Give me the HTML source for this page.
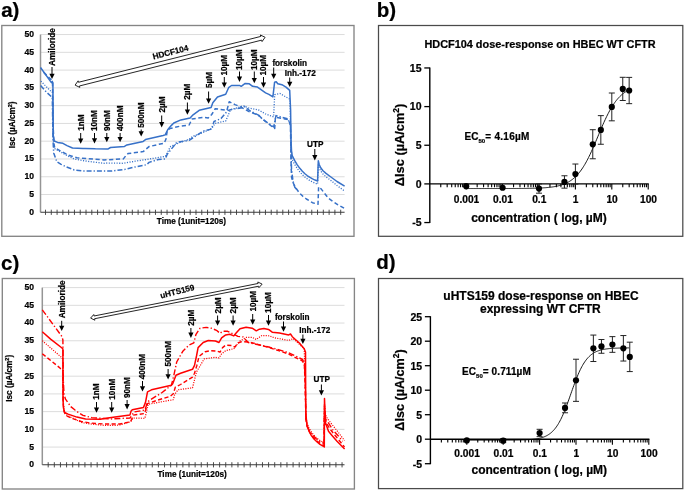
<!DOCTYPE html>
<html><head><meta charset="utf-8"><style>
html,body{margin:0;padding:0;background:#fff;}
svg{display:block;font-family:"Liberation Sans", sans-serif;will-change:transform;}
text{stroke:#000;stroke-width:0.22px;}
</style></head><body>
<svg width="685" height="491" viewBox="0 0 685 491">
<rect width="685" height="491" fill="#fff"/>
<text x="1.20" y="16.80" font-size="20.5" text-anchor="start" font-weight="bold" >a)</text>
<text x="376.80" y="16.80" font-size="20.5" text-anchor="start" font-weight="bold" >b)</text>
<text x="1.00" y="269.50" font-size="20.5" text-anchor="start" font-weight="bold" >c)</text>
<text x="376.30" y="268.70" font-size="20.5" text-anchor="start" font-weight="bold" >d)</text>
<rect x="1.8" y="25.5" width="352.2" height="210.8" fill="none" stroke="#858585" stroke-width="1.35"/>
<line x1="40.5" y1="194.53" x2="344.6" y2="194.53" stroke="#dcdcdc" stroke-width="1"/>
<line x1="40.5" y1="176.75" x2="344.6" y2="176.75" stroke="#dcdcdc" stroke-width="1"/>
<line x1="40.5" y1="158.98" x2="344.6" y2="158.98" stroke="#dcdcdc" stroke-width="1"/>
<line x1="40.5" y1="141.20" x2="344.6" y2="141.20" stroke="#dcdcdc" stroke-width="1"/>
<line x1="40.5" y1="123.43" x2="344.6" y2="123.43" stroke="#dcdcdc" stroke-width="1"/>
<line x1="40.5" y1="105.65" x2="344.6" y2="105.65" stroke="#dcdcdc" stroke-width="1"/>
<line x1="40.5" y1="87.88" x2="344.6" y2="87.88" stroke="#dcdcdc" stroke-width="1"/>
<line x1="40.5" y1="70.10" x2="344.6" y2="70.10" stroke="#dcdcdc" stroke-width="1"/>
<line x1="40.5" y1="52.33" x2="344.6" y2="52.33" stroke="#dcdcdc" stroke-width="1"/>
<line x1="40.5" y1="34.55" x2="344.6" y2="34.55" stroke="#dcdcdc" stroke-width="1"/>
<line x1="40.5" y1="34.55" x2="40.5" y2="212.30" stroke="#959595" stroke-width="1.5"/>
<line x1="40.5" y1="212.30" x2="344.6" y2="212.30" stroke="#3a3a3a" stroke-width="1.1"/>
<path d="M45.50,209.70 V214.90 M51.29,209.70 V214.90 M57.08,209.70 V214.90 M62.86,209.70 V214.90 M68.65,209.70 V214.90 M74.44,209.70 V214.90 M80.23,209.70 V214.90 M86.02,209.70 V214.90 M91.80,209.70 V214.90 M97.59,209.70 V214.90 M103.38,209.70 V214.90 M109.17,209.70 V214.90 M114.96,209.70 V214.90 M120.74,209.70 V214.90 M126.53,209.70 V214.90 M132.32,209.70 V214.90 M138.11,209.70 V214.90 M143.90,209.70 V214.90 M149.68,209.70 V214.90 M155.47,209.70 V214.90 M161.26,209.70 V214.90 M167.05,209.70 V214.90 M172.84,209.70 V214.90 M178.62,209.70 V214.90 M184.41,209.70 V214.90 M190.20,209.70 V214.90 M195.99,209.70 V214.90 M201.78,209.70 V214.90 M207.56,209.70 V214.90 M213.35,209.70 V214.90 M219.14,209.70 V214.90 M224.93,209.70 V214.90 M230.72,209.70 V214.90 M236.50,209.70 V214.90 M242.29,209.70 V214.90 M248.08,209.70 V214.90 M253.87,209.70 V214.90 M259.66,209.70 V214.90 M265.44,209.70 V214.90 M271.23,209.70 V214.90 M277.02,209.70 V214.90 M282.81,209.70 V214.90 M288.60,209.70 V214.90 M294.38,209.70 V214.90 M300.17,209.70 V214.90 M305.96,209.70 V214.90 M311.75,209.70 V214.90 M317.54,209.70 V214.90 M323.32,209.70 V214.90 M329.11,209.70 V214.90 M334.90,209.70 V214.90 M340.69,209.70 V214.90" stroke="#3a3a3a" stroke-width="0.9"/>
<text x="34.00" y="214.75" font-size="8.6" text-anchor="end" font-weight="bold" >0</text>
<text x="34.00" y="196.97" font-size="8.6" text-anchor="end" font-weight="bold" >5</text>
<text x="34.00" y="179.20" font-size="8.6" text-anchor="end" font-weight="bold" >10</text>
<text x="34.00" y="161.43" font-size="8.6" text-anchor="end" font-weight="bold" >15</text>
<text x="34.00" y="143.65" font-size="8.6" text-anchor="end" font-weight="bold" >20</text>
<text x="34.00" y="125.88" font-size="8.6" text-anchor="end" font-weight="bold" >25</text>
<text x="34.00" y="108.10" font-size="8.6" text-anchor="end" font-weight="bold" >30</text>
<text x="34.00" y="90.33" font-size="8.6" text-anchor="end" font-weight="bold" >35</text>
<text x="34.00" y="72.55" font-size="8.6" text-anchor="end" font-weight="bold" >40</text>
<text x="34.00" y="54.78" font-size="8.6" text-anchor="end" font-weight="bold" >45</text>
<text x="34.00" y="37.00" font-size="8.6" text-anchor="end" font-weight="bold" >50</text>
<text transform="translate(15.05,124.90) rotate(-90)" font-size="8.2" font-weight="bold" text-anchor="middle">Isc (µA/cm<tspan font-size="5.5" dy="-3">2</tspan><tspan dy="3">)</tspan></text>
<text x="156.80" y="224.00" font-size="8.2" text-anchor="start" font-weight="bold" >Time (1unit=120s)</text>
<text transform="translate(54.95,65.90) rotate(-90)" font-size="8.2" font-weight="bold">Amiloride</text>
<line x1="52.00" y1="67.00" x2="52.00" y2="74.20" stroke="#000" stroke-width="1.0"/>
<path d="M49.40,73.70 L54.60,73.70 L52.00,79.00 Z" fill="#000"/>
<text transform="translate(83.65,130.80) rotate(-90)" font-size="8.2" font-weight="bold">1nM</text>
<line x1="80.70" y1="133.00" x2="80.70" y2="139.00" stroke="#000" stroke-width="1.0"/>
<path d="M78.10,138.50 L83.30,138.50 L80.70,143.80 Z" fill="#000"/>
<text transform="translate(97.45,131.00) rotate(-90)" font-size="8.2" font-weight="bold">10nM</text>
<line x1="94.50" y1="133.00" x2="94.50" y2="138.80" stroke="#000" stroke-width="1.0"/>
<path d="M91.90,138.30 L97.10,138.30 L94.50,143.60 Z" fill="#000"/>
<text transform="translate(109.75,131.00) rotate(-90)" font-size="8.2" font-weight="bold">90nM</text>
<line x1="106.80" y1="133.00" x2="106.80" y2="137.40" stroke="#000" stroke-width="1.0"/>
<path d="M104.20,136.90 L109.40,136.90 L106.80,142.20 Z" fill="#000"/>
<text transform="translate(123.05,131.00) rotate(-90)" font-size="8.2" font-weight="bold">400nM</text>
<line x1="120.10" y1="133.00" x2="120.10" y2="137.40" stroke="#000" stroke-width="1.0"/>
<path d="M117.50,136.90 L122.70,136.90 L120.10,142.20 Z" fill="#000"/>
<text transform="translate(144.15,127.80) rotate(-90)" font-size="8.2" font-weight="bold">500nM</text>
<line x1="141.20" y1="129.50" x2="141.20" y2="131.80" stroke="#000" stroke-width="1.0"/>
<path d="M138.60,131.30 L143.80,131.30 L141.20,136.60 Z" fill="#000"/>
<text transform="translate(164.65,112.50) rotate(-90)" font-size="8.2" font-weight="bold">2µM</text>
<line x1="161.70" y1="115.50" x2="161.70" y2="122.60" stroke="#000" stroke-width="1.0"/>
<path d="M159.10,122.10 L164.30,122.10 L161.70,127.40 Z" fill="#000"/>
<text transform="translate(190.35,99.70) rotate(-90)" font-size="8.2" font-weight="bold">2µM</text>
<line x1="187.40" y1="102.50" x2="187.40" y2="109.90" stroke="#000" stroke-width="1.0"/>
<path d="M184.80,109.40 L190.00,109.40 L187.40,114.70 Z" fill="#000"/>
<text transform="translate(211.55,88.00) rotate(-90)" font-size="8.2" font-weight="bold">5µM</text>
<line x1="208.60" y1="91.50" x2="208.60" y2="99.00" stroke="#000" stroke-width="1.0"/>
<path d="M206.00,98.50 L211.20,98.50 L208.60,103.80 Z" fill="#000"/>
<text transform="translate(227.25,75.60) rotate(-90)" font-size="8.2" font-weight="bold">10µM</text>
<line x1="224.30" y1="77.00" x2="224.30" y2="83.00" stroke="#000" stroke-width="1.0"/>
<path d="M221.70,82.50 L226.90,82.50 L224.30,87.80 Z" fill="#000"/>
<text transform="translate(242.45,70.00) rotate(-90)" font-size="8.2" font-weight="bold">10µM</text>
<line x1="239.50" y1="71.50" x2="239.50" y2="77.10" stroke="#000" stroke-width="1.0"/>
<path d="M236.90,76.60 L242.10,76.60 L239.50,81.90 Z" fill="#000"/>
<text transform="translate(257.25,70.00) rotate(-90)" font-size="8.2" font-weight="bold">10µM</text>
<line x1="254.30" y1="71.50" x2="254.30" y2="78.40" stroke="#000" stroke-width="1.0"/>
<path d="M251.70,77.90 L256.90,77.90 L254.30,83.20 Z" fill="#000"/>
<text transform="translate(266.45,75.60) rotate(-90)" font-size="8.2" font-weight="bold">10µM</text>
<line x1="263.50" y1="77.00" x2="263.50" y2="83.00" stroke="#000" stroke-width="1.0"/>
<path d="M260.90,82.50 L266.10,82.50 L263.50,87.80 Z" fill="#000"/>
<text x="272.40" y="65.50" font-size="8.2" text-anchor="start" font-weight="bold" >forskolin</text>
<line x1="273.70" y1="67.50" x2="273.70" y2="74.20" stroke="#000" stroke-width="1.0"/>
<path d="M271.10,73.70 L276.30,73.70 L273.70,79.00 Z" fill="#000"/>
<text x="284.80" y="75.90" font-size="8.2" text-anchor="start" font-weight="bold" >Inh.-172</text>
<line x1="289.70" y1="77.50" x2="289.70" y2="82.30" stroke="#000" stroke-width="1.0"/>
<path d="M287.10,81.80 L292.30,81.80 L289.70,87.10 Z" fill="#000"/>
<text x="307.00" y="146.80" font-size="8.2" text-anchor="start" font-weight="bold" >UTP</text>
<line x1="314.80" y1="149.00" x2="314.80" y2="155.60" stroke="#000" stroke-width="1.0"/>
<path d="M312.20,155.10 L317.40,155.10 L314.80,160.40 Z" fill="#000"/>
<path d="M75.10,85.10 L79.81,87.42 L79.44,85.97 L261.68,40.12 L262.05,41.57 L265.10,37.30 L260.39,34.98 L260.76,36.43 L78.52,82.28 L78.15,80.83 Z" fill="#fff" stroke="#1a1a1a" stroke-width="0.95" stroke-linejoin="miter"/>
<text transform="translate(153.6,59.6) rotate(-14.6)" font-size="8.2" font-weight="bold">HDCF104</text>
<path d="M40.50,67.50 L51.40,82.60 L52.30,81.40 L52.90,83.00 L53.10,110.00 L53.30,136.00 L54.20,141.00 L57.60,142.40 L62.90,143.30 L67.00,145.60 L72.50,148.00 L83.00,148.60 L85.00,148.40 L95.40,148.80 L108.20,148.90 L110.50,147.50 L124.50,146.40 L126.90,144.90 L143.20,141.40 L145.50,139.60 L163.10,135.50 L165.20,134.90 L167.70,129.70 L171.20,125.60 L173.80,123.00 L180.90,119.90 L190.10,117.90 L193.10,114.80 L199.20,110.30 L211.10,107.50 L212.80,102.80 L217.50,97.00 L225.70,94.30 L228.60,87.70 L231.50,85.50 L239.50,85.40 L241.20,86.30 L245.20,83.40 L249.30,83.80 L252.60,86.30 L257.50,87.10 L265.60,92.80 L268.90,94.40 L272.90,96.90 L274.60,82.20 L276.20,81.70 L277.80,83.80 L281.90,84.70 L286.00,87.10 L289.70,90.40 L290.60,110.00 L291.00,140.00 L291.50,150.50 L292.20,155.60 L294.74,160.64 L297.28,164.85 L299.82,168.36 L302.36,171.29 L304.90,173.73 L307.44,175.76 L309.98,177.46 L312.52,178.88 L315.06,180.06 L317.60,181.05 L318.30,160.70 L319.20,164.50 L320.70,167.80 L323.00,170.80 L326.00,173.40 L330.90,177.00 L337.00,181.50 L344.60,186.10" fill="none" stroke="#3771c8" stroke-width="1.5" stroke-linejoin="round" stroke-linecap="butt" />
<path d="M43.60,72.20 L46.00,74.60 L50.50,79.00 L52.50,81.50 L53.00,120.00 L53.80,143.00 L54.70,147.70 L59.40,150.30 L68.10,155.10 L76.90,157.80 L87.40,158.60 L104.00,159.90 L107.00,159.80 L123.40,158.90 L125.70,155.90 L128.00,153.60 L143.20,151.60 L145.00,150.10 L149.00,146.60 L164.20,143.10 L166.00,139.00 L167.20,130.80 L170.00,128.50 L180.00,126.20 L189.10,125.00 L192.10,118.90 L203.50,117.40 L208.20,118.00 L211.70,114.50 L215.20,108.70 L226.90,110.40 L229.20,101.70 L235.00,104.60 L239.70,106.40 L249.00,111.60 L258.40,115.10 L265.40,121.50 L274.70,128.50 L275.40,117.20 L288.40,119.70 L290.50,125.00 L291.00,160.00 L291.50,177.00 L293.00,182.50 L295.30,187.20 L299.10,192.50 L303.10,196.60 L306.40,199.00 L312.50,202.70 L318.00,204.30 L318.60,186.80 L321.10,188.90 L328.40,198.20 L332.50,201.10 L338.00,204.80 L344.60,208.40" fill="none" stroke="#3771c8" stroke-width="1.5" stroke-linejoin="round" stroke-linecap="butt" stroke-dasharray="4.2 2.6" />
<path d="M40.90,81.10 L49.80,90.30 L52.50,92.50 L53.00,130.00 L53.80,148.10 L58.00,150.50 L65.50,154.70 L74.30,159.10 L87.40,161.30 L104.00,163.30 L105.10,163.00 L123.40,163.30 L135.00,161.20 L146.70,159.50 L165.40,156.30 L167.20,153.00 L168.90,149.50 L170.70,146.40 L180.00,142.50 L189.10,139.20 L193.10,136.20 L200.00,133.80 L211.70,128.50 L215.20,123.30 L225.70,121.00 L228.00,115.70 L230.40,109.90 L235.00,108.50 L243.20,105.80 L249.00,108.10 L258.40,109.90 L265.60,114.00 L273.60,116.90 L274.70,94.70 L280.00,93.50 L290.00,99.30 L290.60,130.00 L291.20,150.00 L292.20,159.70 L294.74,164.50 L297.28,168.51 L299.82,171.87 L302.36,174.67 L304.90,177.02 L307.44,178.98 L309.98,180.62 L312.52,182.00 L315.06,183.14 L317.60,184.10 L318.30,164.80 L319.20,168.00 L320.70,171.00 L323.00,174.00 L326.00,176.80 L330.90,180.50 L337.00,185.50 L344.60,191.00" fill="none" stroke="#3771c8" stroke-width="1.3" stroke-linejoin="round" stroke-linecap="butt" stroke-dasharray="1.1 1.5" />
<path d="M40.60,85.50 L46.40,92.10 L52.30,97.50 L53.00,140.00 L53.70,152.90 L56.80,161.70 L61.10,164.30 L65.50,166.50 L74.30,170.00 L83.00,170.90 L100.50,171.10 L111.70,171.10 L124.50,169.40 L135.00,167.00 L146.70,164.70 L149.00,162.40 L158.40,159.50 L165.40,158.90 L167.20,154.20 L176.80,142.30 L189.10,140.30 L203.30,131.10 L211.50,129.10 L214.00,121.50 L221.00,118.60 L228.00,110.40 L235.00,108.70 L240.90,108.10 L244.40,106.40 L250.20,111.00 L258.40,115.10 L262.30,118.90 L273.70,127.00 L276.00,115.60 L288.00,118.90 L290.50,125.00 L291.00,150.00 L291.50,169.30 L293.00,181.00 L294.80,187.20 L297.50,190.50" fill="none" stroke="#3771c8" stroke-width="1.5" stroke-linejoin="round" stroke-linecap="butt" stroke-dasharray="5 2 1.3 2" />
<rect x="2.3" y="278.5" width="352.09999999999997" height="210.5" fill="none" stroke="#858585" stroke-width="1.35"/>
<line x1="42.3" y1="447.08" x2="344.5" y2="447.08" stroke="#dcdcdc" stroke-width="1"/>
<line x1="42.3" y1="429.36" x2="344.5" y2="429.36" stroke="#dcdcdc" stroke-width="1"/>
<line x1="42.3" y1="411.64" x2="344.5" y2="411.64" stroke="#dcdcdc" stroke-width="1"/>
<line x1="42.3" y1="393.92" x2="344.5" y2="393.92" stroke="#dcdcdc" stroke-width="1"/>
<line x1="42.3" y1="376.20" x2="344.5" y2="376.20" stroke="#dcdcdc" stroke-width="1"/>
<line x1="42.3" y1="358.48" x2="344.5" y2="358.48" stroke="#dcdcdc" stroke-width="1"/>
<line x1="42.3" y1="340.76" x2="344.5" y2="340.76" stroke="#dcdcdc" stroke-width="1"/>
<line x1="42.3" y1="323.04" x2="344.5" y2="323.04" stroke="#dcdcdc" stroke-width="1"/>
<line x1="42.3" y1="305.32" x2="344.5" y2="305.32" stroke="#dcdcdc" stroke-width="1"/>
<line x1="42.3" y1="287.60" x2="344.5" y2="287.60" stroke="#dcdcdc" stroke-width="1"/>
<line x1="42.3" y1="287.60" x2="42.3" y2="464.80" stroke="#959595" stroke-width="1.5"/>
<line x1="42.3" y1="464.80" x2="344.5" y2="464.80" stroke="#3a3a3a" stroke-width="1.1"/>
<path d="M48.20,462.20 V467.40 M54.32,462.20 V467.40 M60.44,462.20 V467.40 M66.57,462.20 V467.40 M72.69,462.20 V467.40 M78.81,462.20 V467.40 M84.93,462.20 V467.40 M91.05,462.20 V467.40 M97.18,462.20 V467.40 M103.30,462.20 V467.40 M109.42,462.20 V467.40 M115.54,462.20 V467.40 M121.66,462.20 V467.40 M127.79,462.20 V467.40 M133.91,462.20 V467.40 M140.03,462.20 V467.40 M146.15,462.20 V467.40 M152.27,462.20 V467.40 M158.40,462.20 V467.40 M164.52,462.20 V467.40 M170.64,462.20 V467.40 M176.76,462.20 V467.40 M182.88,462.20 V467.40 M189.01,462.20 V467.40 M195.13,462.20 V467.40 M201.25,462.20 V467.40 M207.37,462.20 V467.40 M213.49,462.20 V467.40 M219.62,462.20 V467.40 M225.74,462.20 V467.40 M231.86,462.20 V467.40 M237.98,462.20 V467.40 M244.10,462.20 V467.40 M250.23,462.20 V467.40 M256.35,462.20 V467.40 M262.47,462.20 V467.40 M268.59,462.20 V467.40 M274.71,462.20 V467.40 M280.84,462.20 V467.40 M286.96,462.20 V467.40 M293.08,462.20 V467.40 M299.20,462.20 V467.40 M305.32,462.20 V467.40 M311.45,462.20 V467.40 M317.57,462.20 V467.40 M323.69,462.20 V467.40 M329.81,462.20 V467.40 M335.93,462.20 V467.40 M342.06,462.20 V467.40" stroke="#3a3a3a" stroke-width="0.9"/>
<text x="34.00" y="467.25" font-size="8.6" text-anchor="end" font-weight="bold" >0</text>
<text x="34.00" y="449.53" font-size="8.6" text-anchor="end" font-weight="bold" >5</text>
<text x="34.00" y="431.81" font-size="8.6" text-anchor="end" font-weight="bold" >10</text>
<text x="34.00" y="414.09" font-size="8.6" text-anchor="end" font-weight="bold" >15</text>
<text x="34.00" y="396.37" font-size="8.6" text-anchor="end" font-weight="bold" >20</text>
<text x="34.00" y="378.65" font-size="8.6" text-anchor="end" font-weight="bold" >25</text>
<text x="34.00" y="360.93" font-size="8.6" text-anchor="end" font-weight="bold" >30</text>
<text x="34.00" y="343.21" font-size="8.6" text-anchor="end" font-weight="bold" >35</text>
<text x="34.00" y="325.49" font-size="8.6" text-anchor="end" font-weight="bold" >40</text>
<text x="34.00" y="307.77" font-size="8.6" text-anchor="end" font-weight="bold" >45</text>
<text x="34.00" y="290.05" font-size="8.6" text-anchor="end" font-weight="bold" >50</text>
<text transform="translate(11.85,378.30) rotate(-90)" font-size="8.2" font-weight="bold" text-anchor="middle">Isc (µA/cm<tspan font-size="5.5" dy="-3">2</tspan><tspan dy="3">)</tspan></text>
<text x="157.50" y="476.90" font-size="8.2" text-anchor="start" font-weight="bold" >Time (1unit=120s)</text>
<text transform="translate(64.65,318.30) rotate(-90)" font-size="8.2" font-weight="bold">Amiloride</text>
<line x1="61.70" y1="320.80" x2="61.70" y2="326.20" stroke="#000" stroke-width="1.0"/>
<path d="M59.10,325.70 L64.30,325.70 L61.70,331.00 Z" fill="#000"/>
<text transform="translate(99.45,399.70) rotate(-90)" font-size="8.2" font-weight="bold">1nM</text>
<line x1="96.50" y1="402.00" x2="96.50" y2="407.90" stroke="#000" stroke-width="1.0"/>
<path d="M93.90,407.40 L99.10,407.40 L96.50,412.70 Z" fill="#000"/>
<text transform="translate(114.65,399.70) rotate(-90)" font-size="8.2" font-weight="bold">10nM</text>
<line x1="111.70" y1="402.00" x2="111.70" y2="407.90" stroke="#000" stroke-width="1.0"/>
<path d="M109.10,407.40 L114.30,407.40 L111.70,412.70 Z" fill="#000"/>
<text transform="translate(130.05,398.00) rotate(-90)" font-size="8.2" font-weight="bold">90nM</text>
<line x1="127.10" y1="400.00" x2="127.10" y2="404.60" stroke="#000" stroke-width="1.0"/>
<path d="M124.50,404.10 L129.70,404.10 L127.10,409.40 Z" fill="#000"/>
<text transform="translate(145.45,379.30) rotate(-90)" font-size="8.2" font-weight="bold">400nM</text>
<line x1="142.50" y1="381.00" x2="142.50" y2="386.70" stroke="#000" stroke-width="1.0"/>
<path d="M139.90,386.20 L145.10,386.20 L142.50,391.50 Z" fill="#000"/>
<text transform="translate(171.05,366.50) rotate(-90)" font-size="8.2" font-weight="bold">500nM</text>
<line x1="168.10" y1="369.00" x2="168.10" y2="374.70" stroke="#000" stroke-width="1.0"/>
<path d="M165.50,374.20 L170.70,374.20 L168.10,379.50 Z" fill="#000"/>
<text transform="translate(193.85,325.70) rotate(-90)" font-size="8.2" font-weight="bold">2µM</text>
<line x1="190.90" y1="328.00" x2="190.90" y2="333.10" stroke="#000" stroke-width="1.0"/>
<path d="M188.30,332.60 L193.50,332.60 L190.90,337.90 Z" fill="#000"/>
<text transform="translate(220.55,313.40) rotate(-90)" font-size="8.2" font-weight="bold">2µM</text>
<line x1="217.60" y1="315.50" x2="217.60" y2="320.90" stroke="#000" stroke-width="1.0"/>
<path d="M215.00,320.40 L220.20,320.40 L217.60,325.70 Z" fill="#000"/>
<text transform="translate(236.05,313.40) rotate(-90)" font-size="8.2" font-weight="bold">2µM</text>
<line x1="233.10" y1="315.50" x2="233.10" y2="320.90" stroke="#000" stroke-width="1.0"/>
<path d="M230.50,320.40 L235.70,320.40 L233.10,325.70 Z" fill="#000"/>
<text transform="translate(255.65,311.60) rotate(-90)" font-size="8.2" font-weight="bold">10µM</text>
<line x1="252.70" y1="314.00" x2="252.70" y2="320.00" stroke="#000" stroke-width="1.0"/>
<path d="M250.10,319.50 L255.30,319.50 L252.70,324.80 Z" fill="#000"/>
<text transform="translate(271.45,312.90) rotate(-90)" font-size="8.2" font-weight="bold">10µM</text>
<line x1="268.50" y1="315.00" x2="268.50" y2="320.90" stroke="#000" stroke-width="1.0"/>
<path d="M265.90,320.40 L271.10,320.40 L268.50,325.70 Z" fill="#000"/>
<text x="274.90" y="319.70" font-size="8.2" text-anchor="start" font-weight="bold" >forskolin</text>
<line x1="283.50" y1="321.50" x2="283.50" y2="327.00" stroke="#000" stroke-width="1.0"/>
<path d="M280.90,326.50 L286.10,326.50 L283.50,331.80 Z" fill="#000"/>
<text x="299.30" y="332.50" font-size="8.2" text-anchor="start" font-weight="bold" >Inh.-172</text>
<line x1="302.90" y1="334.50" x2="302.90" y2="339.30" stroke="#000" stroke-width="1.0"/>
<path d="M300.30,338.80 L305.50,338.80 L302.90,344.10 Z" fill="#000"/>
<text x="313.50" y="382.30" font-size="8.2" text-anchor="start" font-weight="bold" >UTP</text>
<line x1="321.40" y1="384.50" x2="321.40" y2="390.70" stroke="#000" stroke-width="1.0"/>
<path d="M318.80,390.20 L324.00,390.20 L321.40,395.50 Z" fill="#000"/>
<path d="M90.60,318.10 L94.89,320.21 L94.60,318.73 L258.64,286.21 L258.94,287.68 L262.10,284.10 L257.81,281.99 L258.10,283.47 L94.06,315.99 L93.76,314.52 Z" fill="#fff" stroke="#1a1a1a" stroke-width="0.95" stroke-linejoin="miter"/>
<text transform="translate(161.0,298.6) rotate(-14.5)" font-size="8.2" font-weight="bold">uHTS159</text>
<path d="M42.30,331.80 L50.60,339.10 L62.00,348.00 L62.90,349.00 L63.00,400.00 L63.50,408.00 L64.60,412.30 L68.10,414.10 L76.90,417.10 L85.60,418.90 L100.50,419.30 L104.00,418.50 L116.90,416.80 L129.90,415.10 L131.10,411.00 L132.30,409.70 L143.50,407.40 L145.50,402.40 L147.50,391.80 L151.50,389.80 L171.40,385.20 L172.70,383.80 L176.00,375.20 L180.60,373.20 L192.50,369.30 L194.50,365.30 L196.50,356.00 L198.10,347.60 L203.20,342.50 L208.30,340.50 L215.40,341.00 L219.00,342.50 L221.60,337.90 L225.70,334.90 L229.70,334.30 L233.80,335.90 L235.90,333.30 L240.00,328.70 L246.10,327.20 L252.20,328.20 L256.30,330.80 L259.40,329.20 L263.90,328.40 L268.50,329.40 L272.20,332.20 L279.50,333.10 L288.70,334.90 L290.50,334.00 L292.30,336.70 L299.60,343.20 L304.20,348.70 L305.50,352.00 L305.70,400.00 L305.90,414.00 L306.50,420.50 L307.10,426.00 L309.00,431.00 L311.40,435.60 L314.00,439.00 L317.10,442.00 L320.00,444.30 L323.50,446.30 L324.30,447.00 L324.50,398.50 L325.00,412.00 L325.50,422.80 L328.50,431.30 L332.00,435.50 L337.00,441.30 L344.60,449.10" fill="none" stroke="#ff0000" stroke-width="1.5" stroke-linejoin="round" stroke-linecap="butt" />
<path d="M42.30,309.80 L62.00,336.60 L62.90,340.00 L63.30,380.00 L64.00,394.00 L65.50,399.20 L70.80,406.60 L75.00,410.00 L79.00,413.00 L83.00,415.40 L91.80,417.60 L110.00,419.00 L130.00,418.00 L134.00,412.00 L145.00,410.00 L147.50,402.00 L150.00,400.00 L162.10,392.50 L171.40,385.20 L174.00,374.60 L176.70,362.00 L182.80,351.30 L182.80,351.30 L188.90,345.20 L193.80,342.80 L196.00,334.30 L200.10,328.20 L206.20,327.40 L211.30,328.20 L216.50,330.30 L220.00,333.30 L222.60,331.30 L227.70,331.30 L232.80,333.80 L237.90,336.40 L243.00,336.90 L248.30,342.50 L269.90,347.30 L288.30,352.50 L302.60,359.50 L304.40,363.50 L305.30,380.00 L305.80,418.00 L307.00,425.00 L309.00,430.00 L312.00,434.50 L316.00,438.50 L320.00,441.50 L324.00,443.50 L324.50,405.00 L325.20,416.00 L326.30,419.50 L332.80,429.90 L337.50,435.00 L342.70,441.30" fill="none" stroke="#ff0000" stroke-width="1.4" stroke-linejoin="round" stroke-linecap="butt" stroke-dasharray="6 2.2 1.3 2.2" />
<path d="M42.30,353.70 L59.50,367.60 L62.90,371.00 L63.30,405.00 L64.20,412.00 L66.00,415.50 L72.50,418.50 L81.30,421.50 L90.00,423.00 L103.90,424.00 L120.00,424.00 L130.70,421.70 L133.20,415.10 L144.60,413.50 L147.50,403.70 L156.80,400.40 L170.00,396.40 L173.30,393.80 L175.30,387.20 L180.60,384.50 L192.50,377.20 L194.50,373.20 L196.70,366.00 L199.10,356.30 L205.20,351.70 L210.30,350.70 L217.50,351.20 L220.00,352.20 L222.60,347.60 L225.70,345.10 L232.80,345.60 L234.90,347.10 L237.90,343.00 L242.00,341.50 L248.10,342.00 L253.80,343.20 L269.90,347.80 L288.30,353.90 L302.60,361.10 L304.40,366.00 L305.30,390.00 L305.90,420.00 L307.00,426.00 L309.50,432.00 L313.00,437.00 L317.00,441.00 L321.00,444.00 L324.00,446.00 L324.50,410.00 L325.40,420.00 L326.30,423.00 L330.00,429.00 L336.00,436.50 L344.50,447.00" fill="none" stroke="#ff0000" stroke-width="1.4" stroke-linejoin="round" stroke-linecap="butt" stroke-dasharray="4.2 2.4" />
<path d="M42.30,340.70 L62.00,357.80 L62.90,360.00 L63.30,400.00 L64.00,410.00 L65.50,414.50 L72.50,418.00 L81.30,422.40 L90.00,423.90 L103.90,425.30 L115.00,425.50 L120.10,424.80 L130.70,421.70 L133.00,418.00 L144.90,418.30 L146.20,413.00 L148.20,404.40 L158.10,402.40 L173.30,399.70 L174.70,394.40 L178.00,389.80 L192.50,387.80 L194.50,379.90 L196.50,371.90 L204.20,358.90 L215.40,357.30 L219.00,357.90 L221.60,353.80 L225.70,350.70 L233.80,348.70 L236.90,344.60 L240.00,341.00 L246.10,337.40 L252.20,337.40 L256.30,339.50 L260.40,336.40 L262.10,335.50 L269.40,335.80 L274.00,337.70 L288.70,340.40 L293.20,338.60 L304.20,348.70 L305.30,380.00 L305.80,416.00 L307.00,423.00 L309.00,428.00 L312.00,433.00 L316.00,437.50 L320.00,440.50 L324.00,442.50 L324.50,404.00 L325.20,413.00 L326.30,417.00 L332.00,424.50 L338.00,432.00 L344.50,440.50" fill="none" stroke="#ff0000" stroke-width="1.2" stroke-linejoin="round" stroke-linecap="butt" stroke-dasharray="1.1 1.3" />
<rect x="378.5" y="25.5" width="304.29999999999995" height="210.8" fill="none" stroke="#4a4a4a" stroke-width="1.25"/>
<line x1="429.8" y1="67.45" x2="429.8" y2="223.05" stroke="#000" stroke-width="1.4"/>
<line x1="424.3" y1="67.95" x2="429.8" y2="67.95" stroke="#000" stroke-width="1.3"/>
<text x="421.50" y="71.75" font-size="10.5" text-anchor="end" font-weight="bold" >15</text>
<line x1="424.3" y1="106.60" x2="429.8" y2="106.60" stroke="#000" stroke-width="1.3"/>
<text x="421.50" y="110.40" font-size="10.5" text-anchor="end" font-weight="bold" >10</text>
<line x1="424.3" y1="145.25" x2="429.8" y2="145.25" stroke="#000" stroke-width="1.3"/>
<text x="421.50" y="149.05" font-size="10.5" text-anchor="end" font-weight="bold" >5</text>
<line x1="424.3" y1="183.90" x2="429.8" y2="183.90" stroke="#000" stroke-width="1.3"/>
<text x="421.50" y="187.70" font-size="10.5" text-anchor="end" font-weight="bold" >0</text>
<line x1="424.3" y1="222.55" x2="429.8" y2="222.55" stroke="#000" stroke-width="1.3"/>
<text x="421.50" y="226.35" font-size="10.5" text-anchor="end" font-weight="bold" >-5</text>
<line x1="429.8" y1="183.90" x2="648.80" y2="183.90" stroke="#000" stroke-width="1.4"/>
<path d="M440.76,183.90 V187.20 M447.17,183.90 V187.20 M451.71,183.90 V187.20 M455.24,183.90 V187.20 M458.12,183.90 V187.20 M460.56,183.90 V187.20 M462.67,183.90 V187.20 M464.53,183.90 V187.20 M477.16,183.90 V187.20 M483.57,183.90 V187.20 M488.11,183.90 V187.20 M491.64,183.90 V187.20 M494.52,183.90 V187.20 M496.96,183.90 V187.20 M499.07,183.90 V187.20 M500.93,183.90 V187.20 M513.56,183.90 V187.20 M519.97,183.90 V187.20 M524.51,183.90 V187.20 M528.04,183.90 V187.20 M530.92,183.90 V187.20 M533.36,183.90 V187.20 M535.47,183.90 V187.20 M537.33,183.90 V187.20 M549.96,183.90 V187.20 M556.37,183.90 V187.20 M560.91,183.90 V187.20 M564.44,183.90 V187.20 M567.32,183.90 V187.20 M569.76,183.90 V187.20 M571.87,183.90 V187.20 M573.73,183.90 V187.20 M586.36,183.90 V187.20 M592.77,183.90 V187.20 M597.31,183.90 V187.20 M600.84,183.90 V187.20 M603.72,183.90 V187.20 M606.16,183.90 V187.20 M608.27,183.90 V187.20 M610.13,183.90 V187.20 M622.76,183.90 V187.20 M629.17,183.90 V187.20 M633.71,183.90 V187.20 M637.24,183.90 V187.20 M640.12,183.90 V187.20 M642.56,183.90 V187.20 M644.67,183.90 V187.20 M646.53,183.90 V187.20 M466.20,183.90 V189.50 M502.60,183.90 V189.50 M539.00,183.90 V189.50 M575.40,183.90 V189.50 M611.80,183.90 V189.50 M648.20,183.90 V189.50" stroke="#000" stroke-width="1.1"/>
<text x="466.50" y="203.10" font-size="10.2" text-anchor="middle" font-weight="bold" >0.001</text>
<text x="502.90" y="203.10" font-size="10.2" text-anchor="middle" font-weight="bold" >0.01</text>
<text x="539.30" y="203.10" font-size="10.2" text-anchor="middle" font-weight="bold" >0.1</text>
<text x="575.70" y="203.10" font-size="10.2" text-anchor="middle" font-weight="bold" >1</text>
<text x="612.10" y="203.10" font-size="10.2" text-anchor="middle" font-weight="bold" >10</text>
<text x="648.50" y="203.10" font-size="10.2" text-anchor="middle" font-weight="bold" >100</text>
<text x="471.20" y="221.50" font-size="12.0" text-anchor="start" font-weight="bold" >concentration ( log, µM)</text>
<path d="M466.20,188.54 L466.93,188.54 L467.66,188.54 L468.38,188.54 L469.11,188.54 L469.84,188.54 L470.57,188.54 L471.30,188.54 L472.02,188.54 L472.75,188.54 L473.48,188.54 L474.21,188.54 L474.94,188.54 L475.66,188.54 L476.39,188.54 L477.12,188.54 L477.85,188.54 L478.58,188.54 L479.30,188.54 L480.03,188.54 L480.76,188.54 L481.49,188.54 L482.22,188.54 L482.94,188.54 L483.67,188.54 L484.40,188.53 L485.13,188.53 L485.86,188.53 L486.58,188.53 L487.31,188.53 L488.04,188.53 L488.77,188.53 L489.50,188.53 L490.22,188.53 L490.95,188.53 L491.68,188.53 L492.41,188.53 L493.14,188.53 L493.86,188.53 L494.59,188.53 L495.32,188.53 L496.05,188.53 L496.78,188.53 L497.50,188.53 L498.23,188.53 L498.96,188.53 L499.69,188.53 L500.42,188.52 L501.14,188.52 L501.87,188.52 L502.60,188.52 L503.33,188.52 L504.06,188.52 L504.78,188.52 L505.51,188.52 L506.24,188.51 L506.97,188.51 L507.70,188.51 L508.42,188.51 L509.15,188.51 L509.88,188.51 L510.61,188.50 L511.34,188.50 L512.06,188.50 L512.79,188.50 L513.52,188.49 L514.25,188.49 L514.98,188.49 L515.70,188.48 L516.43,188.48 L517.16,188.47 L517.89,188.47 L518.62,188.47 L519.34,188.46 L520.07,188.46 L520.80,188.45 L521.53,188.44 L522.26,188.44 L522.98,188.43 L523.71,188.42 L524.44,188.41 L525.17,188.41 L525.90,188.40 L526.62,188.39 L527.35,188.38 L528.08,188.37 L528.81,188.35 L529.54,188.34 L530.26,188.33 L530.99,188.31 L531.72,188.30 L532.45,188.28 L533.18,188.26 L533.90,188.25 L534.63,188.23 L535.36,188.20 L536.09,188.18 L536.82,188.16 L537.54,188.13 L538.27,188.10 L539.00,188.07 L539.73,188.04 L540.46,188.01 L541.18,187.97 L541.91,187.93 L542.64,187.89 L543.37,187.84 L544.10,187.80 L544.82,187.74 L545.55,187.69 L546.28,187.63 L547.01,187.57 L547.74,187.50 L548.46,187.43 L549.19,187.36 L549.92,187.28 L550.65,187.19 L551.38,187.10 L552.10,187.00 L552.83,186.90 L553.56,186.79 L554.29,186.67 L555.02,186.54 L555.74,186.41 L556.47,186.26 L557.20,186.11 L557.93,185.94 L558.66,185.77 L559.38,185.58 L560.11,185.39 L560.84,185.18 L561.57,184.95 L562.30,184.71 L563.02,184.46 L563.75,184.19 L564.48,183.90 L565.21,183.60 L565.94,183.27 L566.66,182.93 L567.39,182.56 L568.12,182.18 L568.85,181.77 L569.58,181.33 L570.30,180.87 L571.03,180.38 L571.76,179.87 L572.49,179.32 L573.22,178.74 L573.94,178.13 L574.67,177.49 L575.40,176.81 L576.13,176.10 L576.86,175.35 L577.58,174.56 L578.31,173.73 L579.04,172.87 L579.77,171.95 L580.50,171.00 L581.22,170.01 L581.95,168.97 L582.68,167.88 L583.41,166.75 L584.14,165.58 L584.86,164.36 L585.59,163.10 L586.32,161.79 L587.05,160.44 L587.78,159.05 L588.50,157.62 L589.23,156.15 L589.96,154.64 L590.69,153.09 L591.42,151.51 L592.14,149.90 L592.87,148.26 L593.60,146.60 L594.33,144.91 L595.06,143.21 L595.78,141.49 L596.51,139.76 L597.24,138.02 L597.97,136.28 L598.70,134.54 L599.42,132.80 L600.15,131.07 L600.88,129.36 L601.61,127.65 L602.34,125.97 L603.06,124.31 L603.79,122.67 L604.52,121.07 L605.25,119.49 L605.98,117.95 L606.70,116.44 L607.43,114.97 L608.16,113.54 L608.89,112.15 L609.62,110.81 L610.34,109.50 L611.07,108.25 L611.80,107.03 L612.53,105.86 L613.26,104.74 L613.98,103.66 L614.71,102.62 L615.44,101.63 L616.17,100.68 L616.90,99.78 L617.62,98.91 L618.35,98.09 L619.08,97.30 L619.81,96.55 L620.54,95.84 L621.26,95.17 L621.99,94.53 L622.72,93.92 L623.45,93.35 L624.18,92.81 L624.90,92.29 L625.63,91.81 L626.36,91.35 L627.09,90.92 L627.82,90.51 L628.54,90.12" fill="none" stroke="#000" stroke-width="0.9" stroke-linejoin="round" stroke-linecap="butt" />
<circle cx="466.20" cy="186.22" r="3.1" fill="#000"/>
<circle cx="502.60" cy="187.77" r="3.1" fill="#000"/>
<path d="M539.00,183.90 V193.18 M536.00,183.90 h6 M536.00,193.18 h6" stroke="#222" stroke-width="1.0" fill="none"/>
<circle cx="539.00" cy="188.54" r="3.1" fill="#000"/>
<path d="M564.44,175.78 V188.15 M561.44,175.78 h6 M561.44,188.15 h6" stroke="#222" stroke-width="1.0" fill="none"/>
<circle cx="564.44" cy="181.97" r="3.1" fill="#000"/>
<path d="M575.40,164.03 V184.13 M572.40,164.03 h6 M572.40,184.13 h6" stroke="#222" stroke-width="1.0" fill="none"/>
<circle cx="575.40" cy="174.08" r="3.1" fill="#000"/>
<path d="M592.77,129.71 V158.78 M589.77,129.71 h6 M589.77,158.78 h6" stroke="#222" stroke-width="1.0" fill="none"/>
<circle cx="592.77" cy="144.25" r="3.1" fill="#000"/>
<path d="M600.84,115.64 V144.25 M597.84,115.64 h6 M597.84,144.25 h6" stroke="#222" stroke-width="1.0" fill="none"/>
<circle cx="600.84" cy="129.94" r="3.1" fill="#000"/>
<path d="M611.80,93.00 V120.82 M608.80,93.00 h6 M608.80,120.82 h6" stroke="#222" stroke-width="1.0" fill="none"/>
<circle cx="611.80" cy="106.91" r="3.1" fill="#000"/>
<path d="M622.76,77.30 V100.49 M619.76,77.30 h6 M619.76,100.49 h6" stroke="#222" stroke-width="1.0" fill="none"/>
<circle cx="622.76" cy="88.90" r="3.1" fill="#000"/>
<path d="M629.17,77.38 V103.66 M626.17,77.38 h6 M626.17,103.66 h6" stroke="#222" stroke-width="1.0" fill="none"/>
<circle cx="629.17" cy="90.52" r="3.1" fill="#000"/>
<rect x="378.5" y="278.5" width="304.29999999999995" height="210.10000000000002" fill="none" stroke="#4a4a4a" stroke-width="1.25"/>
<line x1="430.4" y1="316.20" x2="430.4" y2="464.20" stroke="#000" stroke-width="1.4"/>
<line x1="424.9" y1="316.70" x2="430.4" y2="316.70" stroke="#000" stroke-width="1.3"/>
<text x="422.10" y="320.50" font-size="10.5" text-anchor="end" font-weight="bold" >25</text>
<line x1="424.9" y1="341.20" x2="430.4" y2="341.20" stroke="#000" stroke-width="1.3"/>
<text x="422.10" y="345.00" font-size="10.5" text-anchor="end" font-weight="bold" >20</text>
<line x1="424.9" y1="365.70" x2="430.4" y2="365.70" stroke="#000" stroke-width="1.3"/>
<text x="422.10" y="369.50" font-size="10.5" text-anchor="end" font-weight="bold" >15</text>
<line x1="424.9" y1="390.20" x2="430.4" y2="390.20" stroke="#000" stroke-width="1.3"/>
<text x="422.10" y="394.00" font-size="10.5" text-anchor="end" font-weight="bold" >10</text>
<line x1="424.9" y1="414.70" x2="430.4" y2="414.70" stroke="#000" stroke-width="1.3"/>
<text x="422.10" y="418.50" font-size="10.5" text-anchor="end" font-weight="bold" >5</text>
<line x1="424.9" y1="439.20" x2="430.4" y2="439.20" stroke="#000" stroke-width="1.3"/>
<text x="422.10" y="443.00" font-size="10.5" text-anchor="end" font-weight="bold" >0</text>
<line x1="424.9" y1="463.70" x2="430.4" y2="463.70" stroke="#000" stroke-width="1.3"/>
<text x="422.10" y="467.50" font-size="10.5" text-anchor="end" font-weight="bold" >-5</text>
<line x1="430.4" y1="439.20" x2="649.40" y2="439.20" stroke="#000" stroke-width="1.4"/>
<path d="M441.36,439.20 V442.50 M447.77,439.20 V442.50 M452.31,439.20 V442.50 M455.84,439.20 V442.50 M458.72,439.20 V442.50 M461.16,439.20 V442.50 M463.27,439.20 V442.50 M465.13,439.20 V442.50 M477.76,439.20 V442.50 M484.17,439.20 V442.50 M488.71,439.20 V442.50 M492.24,439.20 V442.50 M495.12,439.20 V442.50 M497.56,439.20 V442.50 M499.67,439.20 V442.50 M501.53,439.20 V442.50 M514.16,439.20 V442.50 M520.57,439.20 V442.50 M525.11,439.20 V442.50 M528.64,439.20 V442.50 M531.52,439.20 V442.50 M533.96,439.20 V442.50 M536.07,439.20 V442.50 M537.93,439.20 V442.50 M550.56,439.20 V442.50 M556.97,439.20 V442.50 M561.51,439.20 V442.50 M565.04,439.20 V442.50 M567.92,439.20 V442.50 M570.36,439.20 V442.50 M572.47,439.20 V442.50 M574.33,439.20 V442.50 M586.96,439.20 V442.50 M593.37,439.20 V442.50 M597.91,439.20 V442.50 M601.44,439.20 V442.50 M604.32,439.20 V442.50 M606.76,439.20 V442.50 M608.87,439.20 V442.50 M610.73,439.20 V442.50 M623.36,439.20 V442.50 M629.77,439.20 V442.50 M634.31,439.20 V442.50 M637.84,439.20 V442.50 M640.72,439.20 V442.50 M643.16,439.20 V442.50 M645.27,439.20 V442.50 M647.13,439.20 V442.50 M466.80,439.20 V444.80 M503.20,439.20 V444.80 M539.60,439.20 V444.80 M576.00,439.20 V444.80 M612.40,439.20 V444.80 M648.80,439.20 V444.80" stroke="#000" stroke-width="1.1"/>
<text x="467.10" y="457.40" font-size="10.2" text-anchor="middle" font-weight="bold" >0.001</text>
<text x="503.50" y="457.40" font-size="10.2" text-anchor="middle" font-weight="bold" >0.01</text>
<text x="539.90" y="457.40" font-size="10.2" text-anchor="middle" font-weight="bold" >0.1</text>
<text x="576.30" y="457.40" font-size="10.2" text-anchor="middle" font-weight="bold" >1</text>
<text x="612.70" y="457.40" font-size="10.2" text-anchor="middle" font-weight="bold" >10</text>
<text x="649.10" y="457.40" font-size="10.2" text-anchor="middle" font-weight="bold" >100</text>
<text x="471.50" y="474.30" font-size="12.0" text-anchor="start" font-weight="bold" >concentration ( log, µM)</text>
<path d="M466.80,440.18 L467.53,440.18 L468.26,440.18 L468.98,440.18 L469.71,440.18 L470.44,440.18 L471.17,440.18 L471.90,440.18 L472.62,440.18 L473.35,440.18 L474.08,440.18 L474.81,440.18 L475.54,440.18 L476.26,440.18 L476.99,440.18 L477.72,440.18 L478.45,440.18 L479.18,440.18 L479.90,440.18 L480.63,440.18 L481.36,440.18 L482.09,440.18 L482.82,440.18 L483.54,440.18 L484.27,440.18 L485.00,440.18 L485.73,440.18 L486.46,440.18 L487.18,440.18 L487.91,440.18 L488.64,440.18 L489.37,440.18 L490.10,440.18 L490.82,440.18 L491.55,440.17 L492.28,440.17 L493.01,440.17 L493.74,440.17 L494.46,440.17 L495.19,440.17 L495.92,440.17 L496.65,440.17 L497.38,440.17 L498.10,440.17 L498.83,440.17 L499.56,440.17 L500.29,440.16 L501.02,440.16 L501.74,440.16 L502.47,440.16 L503.20,440.16 L503.93,440.16 L504.66,440.15 L505.38,440.15 L506.11,440.15 L506.84,440.15 L507.57,440.14 L508.30,440.14 L509.02,440.13 L509.75,440.13 L510.48,440.13 L511.21,440.12 L511.94,440.12 L512.66,440.11 L513.39,440.10 L514.12,440.10 L514.85,440.09 L515.58,440.08 L516.30,440.07 L517.03,440.06 L517.76,440.05 L518.49,440.03 L519.22,440.02 L519.94,440.01 L520.67,439.99 L521.40,439.97 L522.13,439.95 L522.86,439.93 L523.58,439.91 L524.31,439.88 L525.04,439.85 L525.77,439.82 L526.50,439.79 L527.22,439.75 L527.95,439.71 L528.68,439.67 L529.41,439.62 L530.14,439.57 L530.86,439.52 L531.59,439.45 L532.32,439.39 L533.05,439.31 L533.78,439.23 L534.50,439.14 L535.23,439.05 L535.96,438.94 L536.69,438.83 L537.42,438.70 L538.14,438.57 L538.87,438.42 L539.60,438.25 L540.33,438.08 L541.06,437.89 L541.78,437.68 L542.51,437.45 L543.24,437.20 L543.97,436.93 L544.70,436.63 L545.42,436.32 L546.15,435.97 L546.88,435.59 L547.61,435.18 L548.34,434.74 L549.06,434.26 L549.79,433.75 L550.52,433.19 L551.25,432.59 L551.98,431.94 L552.70,431.24 L553.43,430.48 L554.16,429.68 L554.89,428.81 L555.62,427.89 L556.34,426.90 L557.07,425.84 L557.80,424.72 L558.53,423.53 L559.26,422.27 L559.98,420.94 L560.71,419.53 L561.44,418.06 L562.17,416.51 L562.90,414.90 L563.62,413.22 L564.35,411.47 L565.08,409.66 L565.81,407.80 L566.54,405.89 L567.26,403.93 L567.99,401.94 L568.72,399.91 L569.45,397.86 L570.18,395.79 L570.90,393.72 L571.63,391.65 L572.36,389.59 L573.09,387.54 L573.82,385.52 L574.54,383.54 L575.27,381.59 L576.00,379.69 L576.73,377.84 L577.46,376.05 L578.18,374.32 L578.91,372.66 L579.64,371.06 L580.37,369.54 L581.10,368.08 L581.82,366.69 L582.55,365.38 L583.28,364.14 L584.01,362.97 L584.74,361.86 L585.46,360.83 L586.19,359.86 L586.92,358.95 L587.65,358.10 L588.38,357.30 L589.10,356.57 L589.83,355.88 L590.56,355.24 L591.29,354.65 L592.02,354.11 L592.74,353.60 L593.47,353.13 L594.20,352.70 L594.93,352.30 L595.66,351.93 L596.38,351.59 L597.11,351.28 L597.84,350.99 L598.57,350.73 L599.30,350.49 L600.02,350.26 L600.75,350.06 L601.48,349.87 L602.21,349.70 L602.94,349.54 L603.66,349.39 L604.39,349.26 L605.12,349.14 L605.85,349.02 L606.58,348.92 L607.30,348.83 L608.03,348.74 L608.76,348.66 L609.49,348.59 L610.22,348.52 L610.94,348.46 L611.67,348.41 L612.40,348.36 L613.13,348.31 L613.86,348.27 L614.58,348.23 L615.31,348.19 L616.04,348.16 L616.77,348.13 L617.50,348.11 L618.22,348.08 L618.95,348.06 L619.68,348.04 L620.41,348.02 L621.14,348.00 L621.86,347.98 L622.59,347.97 L623.32,347.96 L624.05,347.94 L624.78,347.93 L625.50,347.92 L626.23,347.91 L626.96,347.91 L627.69,347.90 L628.42,347.89 L629.14,347.88" fill="none" stroke="#000" stroke-width="0.9" stroke-linejoin="round" stroke-linecap="butt" />
<circle cx="466.80" cy="440.43" r="3.1" fill="#000"/>
<path d="M503.20,438.71 V442.63 M500.20,438.71 h6 M500.20,442.63 h6" stroke="#222" stroke-width="1.0" fill="none"/>
<circle cx="503.20" cy="440.67" r="3.1" fill="#000"/>
<path d="M539.60,429.30 V436.65 M536.60,429.30 h6 M536.60,436.65 h6" stroke="#222" stroke-width="1.0" fill="none"/>
<circle cx="539.60" cy="432.98" r="3.1" fill="#000"/>
<path d="M565.04,402.99 V412.79 M562.04,402.99 h6 M562.04,412.79 h6" stroke="#222" stroke-width="1.0" fill="none"/>
<circle cx="565.04" cy="407.89" r="3.1" fill="#000"/>
<path d="M576.00,359.23 V401.37 M573.00,359.23 h6 M573.00,401.37 h6" stroke="#222" stroke-width="1.0" fill="none"/>
<circle cx="576.00" cy="380.30" r="3.1" fill="#000"/>
<path d="M593.37,335.07 V361.53 M590.37,335.07 h6 M590.37,361.53 h6" stroke="#222" stroke-width="1.0" fill="none"/>
<circle cx="593.37" cy="348.30" r="3.1" fill="#000"/>
<path d="M601.44,339.53 V353.25 M598.44,339.53 h6 M598.44,353.25 h6" stroke="#222" stroke-width="1.0" fill="none"/>
<circle cx="601.44" cy="346.39" r="3.1" fill="#000"/>
<path d="M612.40,336.64 V352.32 M609.40,336.64 h6 M609.40,352.32 h6" stroke="#222" stroke-width="1.0" fill="none"/>
<circle cx="612.40" cy="344.48" r="3.1" fill="#000"/>
<path d="M623.36,335.56 V361.04 M620.36,335.56 h6 M620.36,361.04 h6" stroke="#222" stroke-width="1.0" fill="none"/>
<circle cx="623.36" cy="348.30" r="3.1" fill="#000"/>
<path d="M629.77,342.18 V371.58 M626.77,342.18 h6 M626.77,371.58 h6" stroke="#222" stroke-width="1.0" fill="none"/>
<circle cx="629.77" cy="356.88" r="3.1" fill="#000"/>
<text x="540.00" y="47.60" font-size="10.9" text-anchor="middle" font-weight="bold" >HDCF104 dose-response on HBEC WT CFTR</text>
<text x="541.00" y="299.80" font-size="12.0" text-anchor="middle" font-weight="bold" >uHTS159 dose-response on HBEC</text>
<text x="540.30" y="313.10" font-size="12.0" text-anchor="middle" font-weight="bold" >expressing WT CFTR</text>
<text transform="translate(404.02,144.90) rotate(-90)" font-size="12.8" font-weight="bold" text-anchor="middle">ΔIsc (µA/cm<tspan font-size="8.5" dy="-4.7">2</tspan><tspan dy="4.7">)</tspan></text>
<text transform="translate(403.96,390.00) rotate(-90)" font-size="12.6" font-weight="bold" text-anchor="middle">ΔIsc (µA/cm<tspan font-size="8.5" dy="-4.7">2</tspan><tspan dy="4.7">)</tspan></text>
<text x="464.4" y="140.0" font-size="10" font-weight="bold" letter-spacing="0.1">EC<tspan font-size="6" dy="2.8" letter-spacing="0">50</tspan><tspan dy="-2.8" letter-spacing="0.3">= 4.16µM</tspan></text>
<text x="462.0" y="374.9" font-size="10" font-weight="bold" letter-spacing="0.1">EC<tspan font-size="6" dy="2.8" letter-spacing="0">50</tspan><tspan dy="-2.8" letter-spacing="0.1">= 0.711µM</tspan></text>
</svg></body></html>
